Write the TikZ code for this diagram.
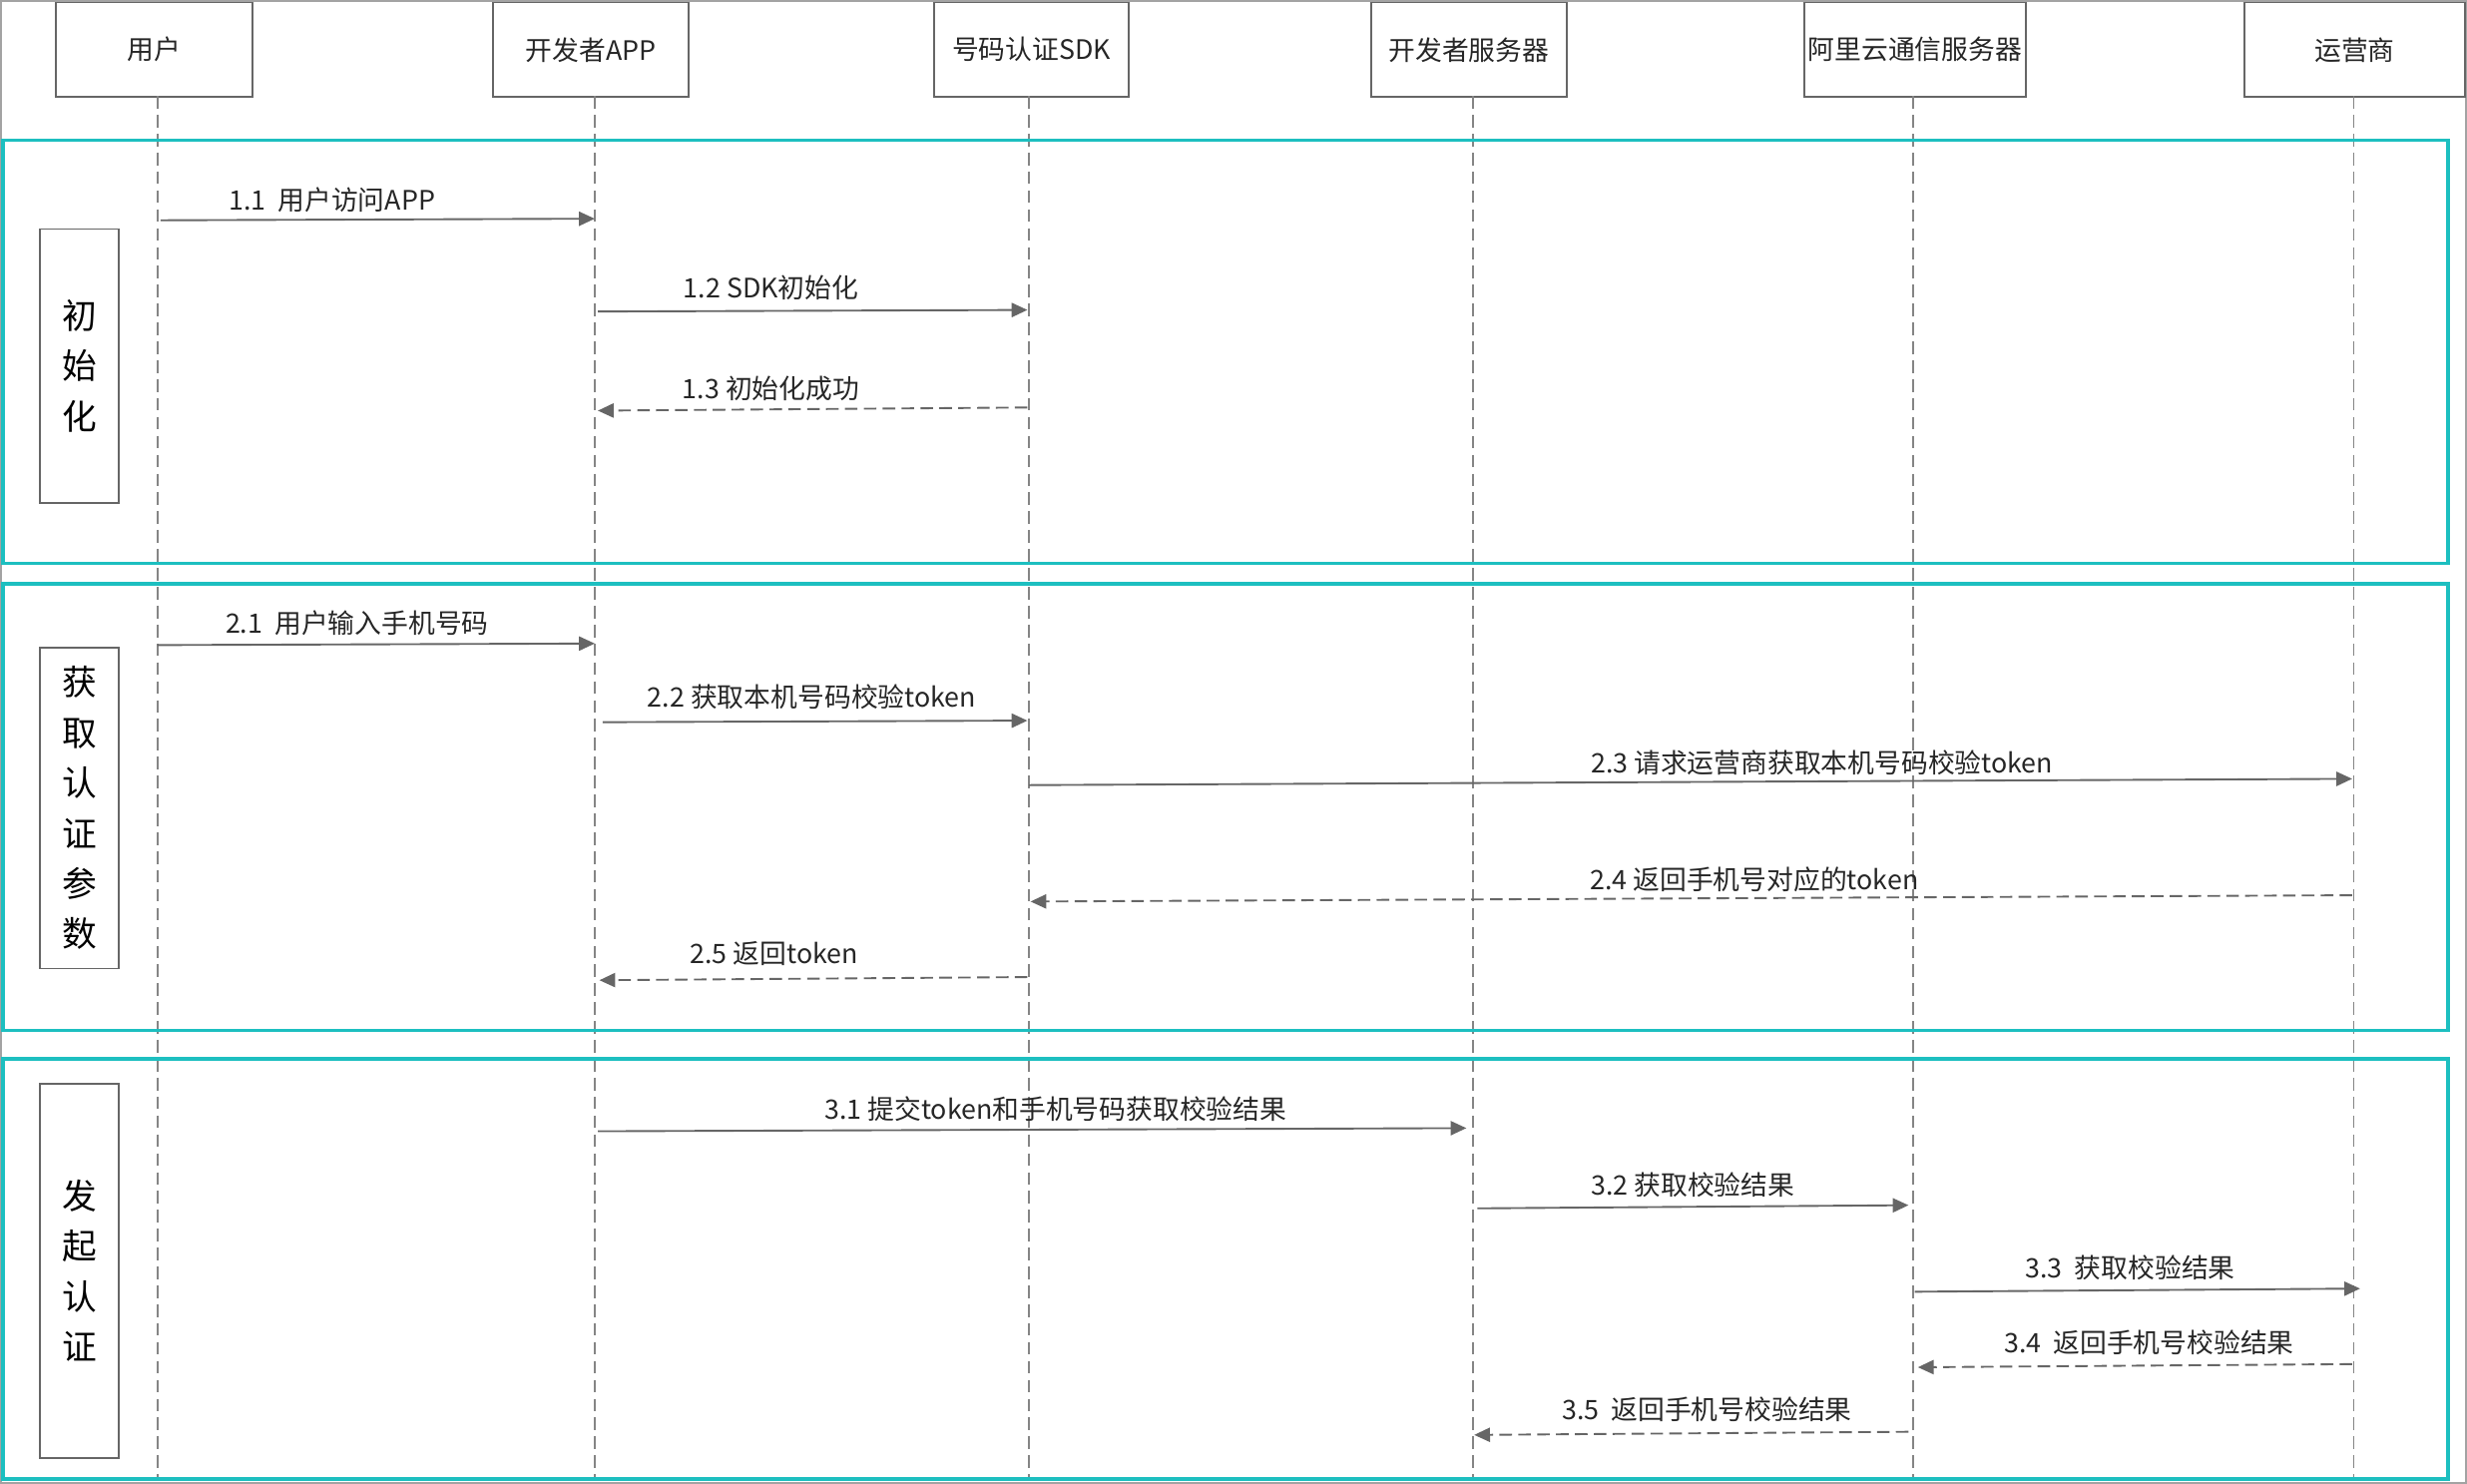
\documentclass[tikz,border=0pt]{standalone}
\usepackage{fontspec}
\setmainfont{Noto Sans CJK SC}
\usetikzlibrary{arrows.meta}
\definecolor{teal1}{HTML}{1DBFC0}
\definecolor{ln}{HTML}{666666}
\begin{document}
\begin{tikzpicture}[x=0.5pt,y=-0.5pt,
  hdr/.style={draw=ln,line width=0.6pt,minimum width=#1*0.5pt,minimum height=30pt,inner sep=0pt,font=\fontsize{8.5pt}{10pt}\selectfont,text=black!85,anchor=north west},
  life/.style={draw=ln!80,dashed,line width=0.6pt,dash pattern=on 4pt off 2pt},
  frm/.style={draw=teal1,line width=1.1pt},
  side/.style={draw=ln,line width=0.6pt,minimum width=25pt,inner sep=0pt,font=\fontsize{11pt}{16pt}\selectfont,align=center,anchor=north west},
  msg/.style={draw=ln,line width=0.6pt,-{Triangle[length=5pt,width=4.5pt]}},
  rmsg/.style={msg,dash pattern=on 4pt off 2pt},
  lab/.style={font=\fontsize{8.5pt}{10pt}\selectfont,text=black!85}]
\useasboundingbox (0,0) rectangle (1568,943);
\draw[ln!60,line width=0.5pt] (0.5,0.5) rectangle (1567.5,942.5);
% headers
\node[hdr=125] (h1) at (35,1) {用户};
\node[hdr=124] (h2) at (313,1) {开发者APP};
\node[hdr=124] (h3) at (593,1) {号码认证SDK};
\node[hdr=124] (h4) at (871,1) {开发者服务器};
\node[hdr=141] (h5) at (1146,1) {阿里云通信服务器};
\node[hdr=140] (h6) at (1426,1) {运营商};
% lifelines
\foreach \x/\n in {100/1,378/2,654/3,936/4,1216/5,1496/6}{
  \coordinate (t\n) at (\x,61); \coordinate (b\n) at (\x,940);
  \draw[life] (t\n) -- (b\n);}
% frames
\draw[frm] (2,89) rectangle (1556,358);
\draw[frm] (2,371) rectangle (1556,655);
\draw[frm] (2,673) rectangle (1556,940);
\node[side,minimum height=87pt] (s1) at (25,145) {初\\始\\化};
\node[side,minimum height=102pt] (s2) at (25,411) {获\\取\\认\\证\\参\\数};
\node[side,minimum height=119pt] (s3) at (25,688) {发\\起\\认\\证};
% message endpoints
\coordinate (a1) at (102,140); \coordinate (a2) at (378,139);
\coordinate (c1) at (380,198); \coordinate (c2) at (653,197);
\coordinate (d1) at (653,259); \coordinate (d2) at (380,261);
\coordinate (e1) at (100,410); \coordinate (e2) at (378,409);
\coordinate (f1) at (383,459); \coordinate (f2) at (653,458);
\coordinate (g1) at (654,499); \coordinate (g2) at (1495,495);
\coordinate (k1) at (1495,569); \coordinate (k2) at (655,573);
\coordinate (m1) at (653,621); \coordinate (m2) at (381,623);
\coordinate (n1) at (380,719); \coordinate (n2) at (932,717);
\coordinate (p1) at (939,768); \coordinate (p2) at (1213,766);
\coordinate (q1) at (1217,821); \coordinate (q2) at (1500,819);
\coordinate (r1) at (1495,867); \coordinate (r2) at (1219,869);
\coordinate (u1) at (1213,910); \coordinate (u2) at (937,912);
\draw[msg] (a1) -- (a2);
\draw[msg] (c1) -- (c2);
\draw[rmsg] (d1) -- (d2);
\draw[msg] (e1) -- (e2);
\draw[msg] (f1) -- (f2);
\draw[msg] (g1) -- (g2);
\draw[rmsg] (k1) -- (k2);
\draw[rmsg] (m1) -- (m2);
\draw[msg] (n1) -- (n2);
\draw[msg] (p1) -- (p2);
\draw[msg] (q1) -- (q2);
\draw[rmsg] (r1) -- (r2);
\draw[rmsg] (u1) -- (u2);
% labels
\node[lab] (l11) at (211,127) {1.1\ \ 用户访问APP};
\node[lab] (l12) at (490,183) {1.2 SDK初始化};
\node[lab] (l13) at (490,247) {1.3 初始化成功};
\node[lab] (l21) at (227,396) {2.1\ \ 用户输入手机号码};
\node[lab] (l22) at (516,443) {2.2 获取本机号码校验token};
\node[lab] (l23) at (1158,485) {2.3 请求运营商获取本机号码校验token};
\node[lab] (l24) at (1115,559) {2.4 返回手机号对应的token};
\node[lab] (l25) at (492,606) {2.5 返回token};
\node[lab] (l31) at (671,705) {3.1 提交token和手机号码获取校验结果};
\node[lab] (l32) at (1076,753) {3.2 获取校验结果};
\node[lab] (l33) at (1354,806) {3.3\ \ 获取校验结果};
\node[lab] (l34) at (1366,853) {3.4\ \ 返回手机号校验结果};
\node[lab] (l35) at (1085,896) {3.5\ \ 返回手机号校验结果};
\end{tikzpicture}
\end{document}
